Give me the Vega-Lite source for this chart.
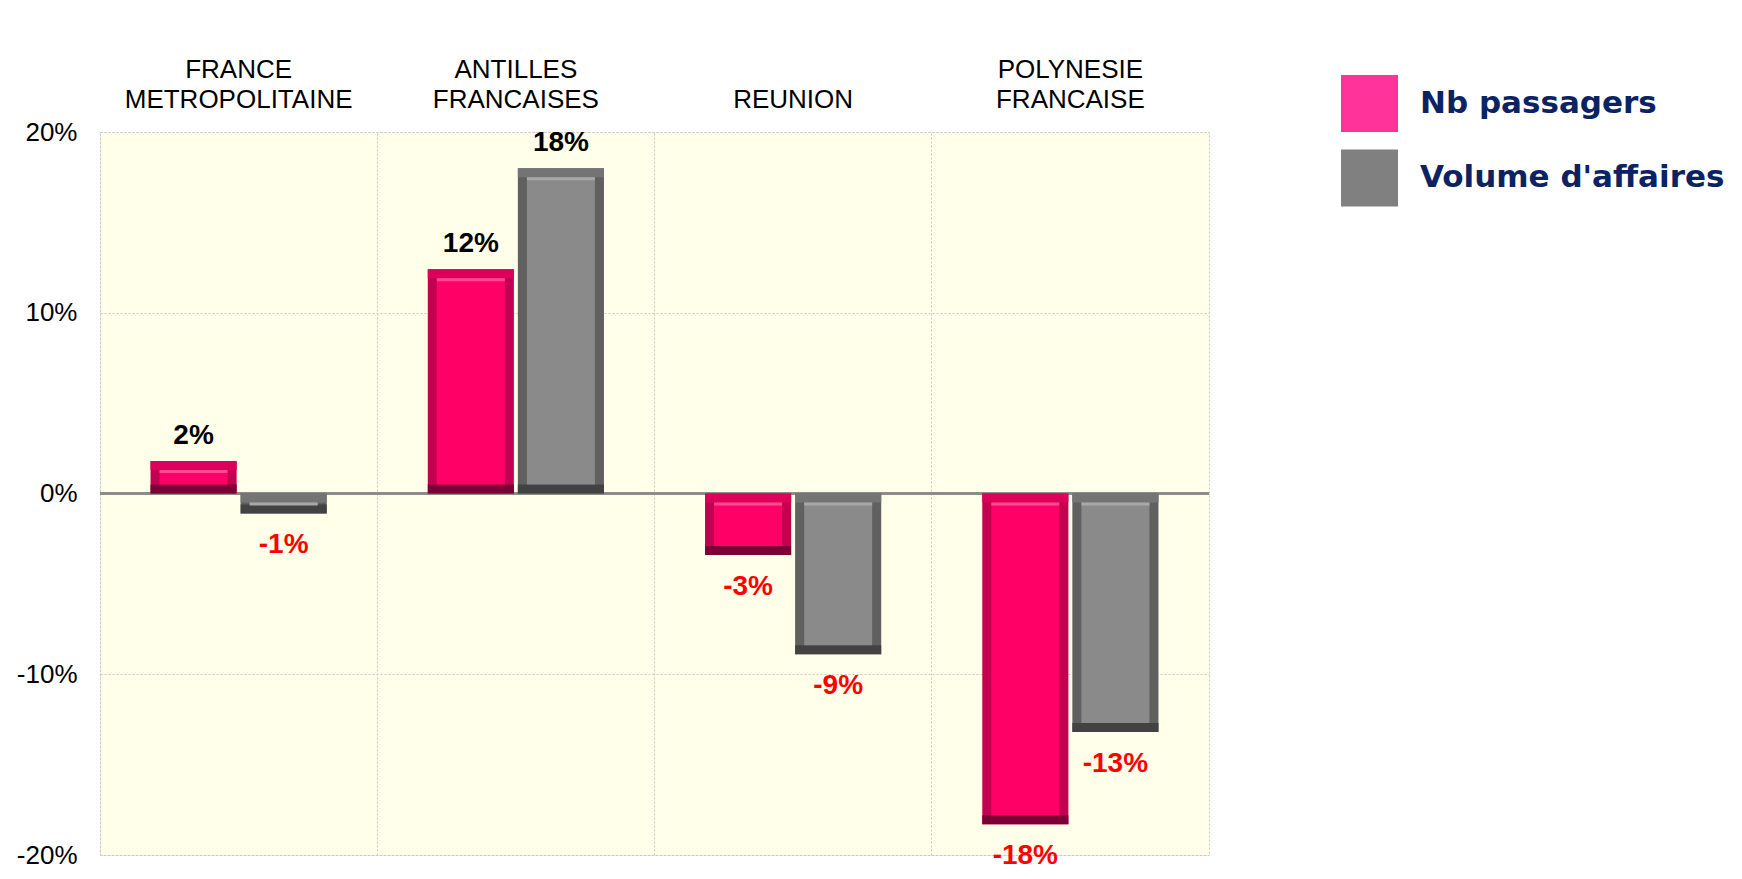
{
  "$schema": "https://vega.github.io/schema/vega-lite/v6.json",
  "autosize": "none",
  "width": 1109,
  "height": 723,
  "padding": {"left": 100, "top": 132, "right": 533, "bottom": 24},
  "background": "white",
  "config": {
    "font": "Liberation Sans",
    "view": {"fill": "#FFFFEA", "stroke": "#C8C8C8", "strokeDash": [2, 2], "strokeWidth": 1}
  },
  "data": {
    "values": [
      {"region": "FRANCE METROPOLITAINE", "serie": "Nb passagers", "value": 1.8, "label": "2%"},
      {"region": "FRANCE METROPOLITAINE", "serie": "Volume d'affaires", "value": -1.1, "label": "-1%"},
      {"region": "ANTILLES FRANCAISES", "serie": "Nb passagers", "value": 12.4, "label": "12%"},
      {"region": "ANTILLES FRANCAISES", "serie": "Volume d'affaires", "value": 18.0, "label": "18%"},
      {"region": "REUNION", "serie": "Nb passagers", "value": -3.4, "label": "-3%"},
      {"region": "REUNION", "serie": "Volume d'affaires", "value": -8.9, "label": "-9%"},
      {"region": "POLYNESIE FRANCAISE", "serie": "Nb passagers", "value": -18.3, "label": "-18%"},
      {"region": "POLYNESIE FRANCAISE", "serie": "Volume d'affaires", "value": -13.2, "label": "-13%"}
    ]
  },
  "layer": [
    {
      "mark": {"type": "rule", "color": "#8C8C8C", "strokeWidth": 2},
      "encoding": {
        "y": {
          "datum": 0, "type": "quantitative", "title": null,
          "scale": {"domain": [-20, 20], "nice": false, "zero": false},
          "axis": {
            "values": [-20, -10, 0, 10, 20],
            "labelExpr": "datum.value + '%'",
            "labelFontSize": 26,
            "labelColor": "#000000",
            "labelPadding": 23,
            "ticks": false,
            "domain": false,
            "grid": true,
            "gridColor": "#C8C8C8",
            "gridDash": [2, 2],
            "gridWidth": 1,
            "title": null
          }
        }
      }
    },
    {
      "encoding": {
        "x": {
          "field": "region", "type": "nominal", "title": null,
          "sort": ["FRANCE METROPOLITAINE", "ANTILLES FRANCAISES", "REUNION", "POLYNESIE FRANCAISE"],
          "scale": {"paddingInner": 0, "paddingOuter": 0},
          "axis": {
            "orient": "top",
            "labelExpr": "indexof(datum.label, ' ') < 0 ? ['', datum.label] : split(datum.label, ' ')",
            "labelFontSize": 26,
            "labelLineHeight": 30,
            "labelColor": "#000000",
            "labelPadding": 50,
            "labelAngle": 0,
            "labelLimit": 400,
            "ticks": false,
            "domain": false,
            "grid": true,
            "bandPosition": 0,
            "gridColor": "#C8C8C8",
            "gridDash": [2, 2],
            "gridWidth": 1,
            "title": null
          }
        },
        "xOffset": {
          "field": "serie", "type": "nominal",
          "sort": ["Nb passagers", "Volume d'affaires"],
          "scale": {"paddingInner": 0.044, "paddingOuter": 0.561}
        }
      },
      "layer": [
        {
          "mark": {"type": "bar"},
          "encoding": {
            "y": {"datum": 0, "type": "quantitative", "title": null},
            "y2": {"datum": 0},
            "color": {
              "field": "serie", "type": "nominal",
              "scale": {"domain": ["Nb passagers", "Volume d'affaires"], "range": ["#FF3399", "#808080"]},
              "legend": {
                "orient": "none",
                "legendX": 1241,
                "legendY": -57,
                "title": null,
                "padding": 0,
                "symbolType": "square",
                "symbolSize": 3249,
                "symbolStrokeWidth": 0,
                "symbolOpacity": 1,
                "labelFont": "DejaVu Sans",
                "labelFontSize": 31,
                "labelFontWeight": "bold",
                "labelColor": "#0B2363",
                "labelOffset": 22,
                "labelLimit": 400,
                "rowPadding": 17.5
              }
            }
          }
        },
        {
          "transform": [{"filter": "datum.value >= 0"}],
          "layer": [
            {
              "mark": {"type": "bar"},
              "encoding": {
                "y": {"field": "value", "type": "quantitative", "title": null},
                "y2": {"datum": 0},
                "fill": {"condition": {"test": "datum.serie === 'Nb passagers'", "value": "#C2004F"}, "value": "#606060"}
              }
            },
            {
              "mark": {"type": "bar", "y2Offset": 9},
              "encoding": {
                "y": {"field": "value", "type": "quantitative", "title": null},
                "y2": {"field": "value"},
                "fill": {"condition": {"test": "datum.serie === 'Nb passagers'", "value": "#DC005A"}, "value": "#747474"}
              }
            },
            {
              "mark": {"type": "bar", "yOffset": -9},
              "encoding": {
                "y": {"datum": 0, "type": "quantitative", "title": null},
                "y2": {"datum": 0},
                "fill": {"condition": {"test": "datum.serie === 'Nb passagers'", "value": "#7C0036"}, "value": "#424242"}
              }
            },
            {
              "mark": {"type": "bar", "yOffset": 9, "y2Offset": -9, "width": 68},
              "encoding": {
                "y": {"field": "value", "type": "quantitative", "title": null},
                "y2": {"datum": 0},
                "fill": {"condition": {"test": "datum.serie === 'Nb passagers'", "value": "#FF0066"}, "value": "#8A8A8A"}
              }
            },
            {
              "mark": {"type": "bar", "yOffset": 9, "y2Offset": 12, "width": 68},
              "encoding": {
                "y": {"field": "value", "type": "quantitative", "title": null},
                "y2": {"field": "value"},
                "fill": {"condition": {"test": "datum.serie === 'Nb passagers'", "value": "#FF4A92"}, "value": "#A8A8A8"}
              }
            },
            {
              "mark": {"type": "text", "fontSize": 28, "fontWeight": "bold", "color": "#000000", "baseline": "alphabetic", "dy": -17},
              "encoding": {
                "y": {"field": "value", "type": "quantitative", "title": null},
                "text": {"field": "label"}
              }
            }
          ]
        },
        {
          "transform": [{"filter": "datum.value < 0"}],
          "layer": [
            {
              "mark": {"type": "bar"},
              "encoding": {
                "y": {"field": "value", "type": "quantitative", "title": null},
                "y2": {"datum": 0},
                "fill": {"condition": {"test": "datum.serie === 'Nb passagers'", "value": "#C2004F"}, "value": "#606060"}
              }
            },
            {
              "mark": {"type": "bar", "y2Offset": 9},
              "encoding": {
                "y": {"datum": 0, "type": "quantitative", "title": null},
                "y2": {"datum": 0},
                "fill": {"condition": {"test": "datum.serie === 'Nb passagers'", "value": "#DC005A"}, "value": "#747474"}
              }
            },
            {
              "mark": {"type": "bar", "yOffset": -9},
              "encoding": {
                "y": {"field": "value", "type": "quantitative", "title": null},
                "y2": {"field": "value"},
                "fill": {"condition": {"test": "datum.serie === 'Nb passagers'", "value": "#7C0036"}, "value": "#424242"}
              }
            },
            {
              "mark": {"type": "bar", "yOffset": -9, "y2Offset": 9, "width": 68},
              "encoding": {
                "y": {"field": "value", "type": "quantitative", "title": null},
                "y2": {"datum": 0},
                "fill": {"condition": {"test": "datum.serie === 'Nb passagers'", "value": "#FF0066"}, "value": "#8A8A8A"}
              }
            },
            {
              "mark": {"type": "bar", "yOffset": 9, "y2Offset": 12, "width": 68},
              "encoding": {
                "y": {"datum": 0, "type": "quantitative", "title": null},
                "y2": {"datum": 0},
                "fill": {"condition": {"test": "datum.serie === 'Nb passagers'", "value": "#FF4A92"}, "value": "#A8A8A8"}
              }
            },
            {
              "mark": {"type": "text", "fontSize": 28, "fontWeight": "bold", "color": "#FF0000", "baseline": "alphabetic", "dy": 40},
              "encoding": {
                "y": {"field": "value", "type": "quantitative", "title": null},
                "text": {"field": "label"}
              }
            }
          ]
        }
      ]
    }
  ]
}
